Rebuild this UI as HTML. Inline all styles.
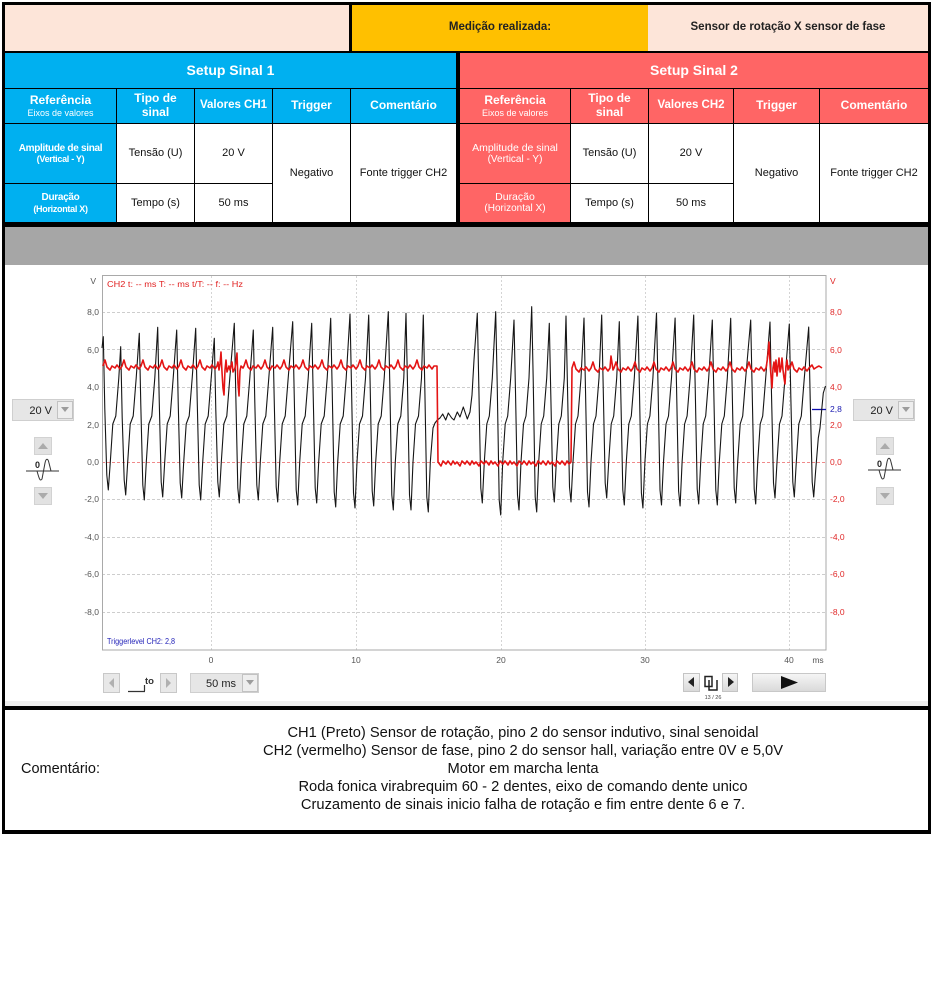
<!DOCTYPE html>
<html><head><meta charset="utf-8">
<style>
*{box-sizing:border-box}
body{margin:0;width:932px;height:995px;background:#fff;position:relative;overflow:hidden;font-family:"Liberation Sans",Arial,sans-serif}
.a{position:absolute}
.c{position:absolute;display:flex;flex-direction:column;align-items:center;justify-content:center;text-align:center;line-height:1.15}
.bl{background:#00b0f0;color:#fff}
.rd{background:#ff6565;color:#fff}
.w{background:#fff;color:#111;font-size:11px}
.h{font-weight:bold;font-size:12px}
.sm{font-size:9px;font-weight:normal}
.ref{font-weight:bold;font-size:10px;letter-spacing:-0.3px}
.ref2{font-weight:bold;font-size:9px;letter-spacing:-0.3px}
</style></head><body>
<!-- frame -->
<div class="a" style="left:2px;top:2px;width:929px;height:832px;background:#000"></div>
<!-- top row -->
<div class="a" style="left:5px;top:5px;width:344px;height:46px;background:#fde5d9"></div>
<div class="c" style="left:352px;top:5px;width:296px;height:46px;background:#ffc000;font-weight:bold;font-size:11.5px;color:#222">Medição realizada:</div>
<div class="c" style="left:648px;top:5px;width:280px;height:46px;background:#fde5d9;font-weight:bold;font-size:11.5px;color:#222">Sensor de rotação X sensor de fase</div>
<!-- setup headers -->
<div class="c bl" style="left:5px;top:53px;width:451px;height:35px;font-weight:bold;font-size:14px">Setup Sinal 1</div>
<div class="c rd" style="left:460px;top:53px;width:468px;height:35px;font-weight:bold;font-size:14px">Setup Sinal 2</div>
<!-- left subheader -->
<div class="c bl h" style="left:5px;top:89px;width:111px;height:34px">Referência<span class="sm">Eixos de valores</span></div>
<div class="c bl h" style="left:117px;top:89px;width:77px;height:34px">Tipo de<br>sinal</div>
<div class="c bl h" style="left:195px;top:89px;width:77px;height:34px;font-size:11.5px">Valores CH1</div>
<div class="c bl h" style="left:273px;top:89px;width:77px;height:34px">Trigger</div>
<div class="c bl h" style="left:351px;top:89px;width:105px;height:34px">Comentário</div>
<!-- right subheader -->
<div class="c rd h" style="left:460px;top:89px;width:110px;height:34px">Referência<span class="sm">Eixos de valores</span></div>
<div class="c rd h" style="left:571px;top:89px;width:77px;height:34px">Tipo de<br>sinal</div>
<div class="c rd h" style="left:649px;top:89px;width:84px;height:34px;font-size:11.5px">Valores CH2</div>
<div class="c rd h" style="left:734px;top:89px;width:85px;height:34px">Trigger</div>
<div class="c rd h" style="left:820px;top:89px;width:108px;height:34px">Comentário</div>
<!-- left rows -->
<div class="c bl" style="left:5px;top:124px;width:111px;height:59px"><span class="ref">Amplitude de sinal</span><span class="ref2">(Vertical - Y)</span></div>
<div class="c w" style="left:117px;top:124px;width:77px;height:59px">Tensão (U)</div>
<div class="c w" style="left:195px;top:124px;width:77px;height:59px;justify-content:flex-start;padding-top:23px">20 V</div>
<div class="c w" style="left:273px;top:124px;width:77px;height:98px">Negativo</div>
<div class="c w" style="left:351px;top:124px;width:105px;height:98px">Fonte trigger CH2</div>
<div class="c bl" style="left:5px;top:184px;width:111px;height:38px"><span class="ref">Duração</span><span class="ref2">(Horizontal X)</span></div>
<div class="c w" style="left:117px;top:184px;width:77px;height:38px">Tempo (s)</div>
<div class="c w" style="left:195px;top:184px;width:77px;height:38px">50 ms</div>
<!-- right rows -->
<div class="c rd" style="left:460px;top:124px;width:110px;height:59px;font-size:10.5px">Amplitude de sinal<span style="font-size:10px">(Vertical - Y)</span></div>
<div class="c w" style="left:571px;top:124px;width:77px;height:59px">Tensão (U)</div>
<div class="c w" style="left:649px;top:124px;width:84px;height:59px;justify-content:flex-start;padding-top:23px">20 V</div>
<div class="c w" style="left:734px;top:124px;width:85px;height:98px">Negativo</div>
<div class="c w" style="left:820px;top:124px;width:108px;height:98px">Fonte trigger CH2</div>
<div class="c rd" style="left:460px;top:184px;width:110px;height:38px;font-size:10.5px">Duração<span style="font-size:10px">(Horizontal X)</span></div>
<div class="c w" style="left:571px;top:184px;width:77px;height:38px">Tempo (s)</div>
<div class="c w" style="left:649px;top:184px;width:84px;height:38px">50 ms</div>
<!-- gray band & panel -->
<div class="a" style="left:5px;top:227px;width:923px;height:38px;background:#a6a6a6"></div>
<div class="a" style="left:5px;top:265px;width:923px;height:436px;background:#fff"></div>
<div class="a" style="left:5px;top:701px;width:923px;height:5px;background:#efefef"></div>
<!-- comment -->
<div class="a" style="left:5px;top:710px;width:923px;height:120px;background:#fff"></div>
<div class="a" style="left:21px;top:761px;font-size:14.5px;color:#111">Comentário:</div>
<div class="a" style="left:193px;top:724px;width:660px;text-align:center;font-size:14.7px;line-height:18px;color:#111">CH1 (Preto) Sensor de rotação, pino 2 do sensor indutivo, sinal senoidal<br>CH2 (vermelho) Sensor de fase, pino 2 do sensor hall, variação entre 0V e 5,0V<br>Motor em marcha lenta<br>Roda fonica virabrequim 60 - 2 dentes, eixo de comando dente unico<br>Cruzamento de sinais inicio falha de rotação e fim entre dente 6 e 7.</div>

<svg class="a" style="left:0;top:0" width="932" height="995" viewBox="0 0 932 995" font-family="Liberation Sans, Arial, sans-serif">
<defs>
<linearGradient id="bg" x1="0" y1="0" x2="0" y2="1"><stop offset="0" stop-color="#f6f6f6"/><stop offset="1" stop-color="#d9d9d9"/></linearGradient>
</defs>
<!-- grid -->
<g stroke="#cdcdcd" stroke-width="1" stroke-dasharray="3,2" fill="none">
<path d="M102,312.5H826M102,349.5H826M102,387.5H826M102,424.5H826M102,499.5H826M102,537.5H826M102,574.5H826M102,612.5H826"/>
</g>
<path d="M102,462.5H826" stroke="#f08a8a" stroke-dasharray="3,2"/>
<g stroke="#d4d4d4" stroke-dasharray="2,2">
<path d="M211.5,276V650M356.5,276V650M501.5,276V650M645.5,276V650M789.5,276V650"/>
</g>
<rect x="102.5" y="275.5" width="723.5" height="374.5" fill="none" stroke="#a9a9a9"/>
<!-- left axis labels -->
<g font-size="8.5" fill="#555" text-anchor="end">
<text x="96" y="284">V</text>
<text x="99" y="315">8,0</text><text x="99" y="353">6,0</text><text x="99" y="390">4,0</text><text x="99" y="428">2,0</text><text x="99" y="465">0,0</text><text x="99" y="502">-2,0</text><text x="99" y="540">-4,0</text><text x="99" y="577">-6,0</text><text x="99" y="615">-8,0</text>
</g>
<g font-size="8.5" fill="#e02828">
<text x="830" y="284">V</text>
<text x="830" y="315">8,0</text><text x="830" y="353">6,0</text><text x="830" y="390">4,0</text><text x="830" y="428">2,0</text><text x="830" y="465">0,0</text><text x="830" y="502">-2,0</text><text x="830" y="540">-4,0</text><text x="830" y="577">-6,0</text><text x="830" y="615">-8,0</text>
</g>
<path d="M812,409.5H826" stroke="#1010b0" stroke-width="1.3"/>
<text x="830" y="412" font-size="8.5" fill="#1a1ab0">2,8</text>
<!-- x labels -->
<g font-size="8.5" fill="#555" text-anchor="middle">
<text x="211" y="663">0</text><text x="356" y="663">10</text><text x="501" y="663">20</text><text x="645" y="663">30</text><text x="789" y="663">40</text><text x="818" y="663">ms</text>
</g>
<text x="107" y="287" font-size="8" fill="#e02020" textLength="136" lengthAdjust="spacingAndGlyphs">CH2  t: -- ms   T: -- ms   t/T: --   f: -- Hz</text>
<text x="107" y="644" font-size="8" fill="#2323b8" textLength="68" lengthAdjust="spacingAndGlyphs">Triggerlevel CH2: 2,8</text>

<!-- black signal -->
<path fill="none" stroke="#151515" stroke-width="1.1" stroke-linejoin="round" d="M102,348 L103.3,336.7
L104.8,409 L106.8,475 L108.3,490 L110.3,462 L112.8,424 L115.8,416 L118.8,378 L120.7,346.7
L122.2,418 L124.2,480 L125.7,495 L127.7,462 L130.2,424 L133.2,416 L136.2,378 L139.3,333.3
L140.8,405 L142.8,485 L144.3,500 L146.3,462 L148.8,424 L151.8,416 L154.8,378 L157.7,327.3
L159.2,399 L161.2,482 L162.7,497 L164.7,462 L167.2,424 L170.2,416 L173.2,378 L176.7,330
L178.2,402 L180.2,483 L181.7,498 L183.7,462 L186.2,424 L189.2,416 L192.2,378 L195.7,328.3
L197.2,400 L199.2,485 L200.7,500 L202.7,462 L205.2,424 L208.2,416 L211.2,378 L214.3,338.3
L215.8,410 L217.8,482 L219.3,497 L221.3,462 L223.8,424 L226.8,416 L229.8,378 L234.3,323.3
L235.8,395 L237.8,488 L239.3,503 L241.3,462 L243.8,424 L246.8,416 L249.8,378 L253.3,330
L254.8,402 L256.8,485 L258.3,500 L260.3,462 L262.8,424 L265.8,416 L268.8,378 L272.7,327.3
L274.2,399 L276.2,487 L277.7,502 L279.7,462 L282.2,424 L285.2,416 L288.2,378 L292.7,321.7
L294.2,394 L296.2,490 L297.7,505 L299.7,462 L302.2,424 L305.2,416 L308.2,378 L311.7,323.3
L313.2,395 L315.2,488 L316.7,503 L318.7,462 L321.2,424 L324.2,416 L327.2,378 L330.7,318.3
L332.2,390 L334.2,492 L335.7,507 L337.7,462 L340.2,424 L343.2,416 L346.2,378 L350,314
L351.5,386 L353.5,493 L355,508 L357,462 L359.5,424 L362.5,416 L365.5,378 L368.7,315
L370.2,387 L372.2,491 L373.7,506 L375.7,462 L378.2,424 L381.2,416 L384.2,378 L388.3,311.7
L389.8,384 L391.8,495 L393.3,510 L395.3,462 L397.8,424 L400.8,416 L403.8,378 L406,313.3
L407.5,385 L409.5,495 L411,510 L413,462 L415.5,424 L418.5,416 L421.5,378 L423.3,315
L424.8,387 L426.8,497 L428.3,512 L430.3,462 L433,428 L435,423 L437.3,420 L440,418 L442.7,414 L445.7,420 L448.3,413 L451.7,418 L454,420 L457.3,412 L460,417 L463.3,407 L467.3,419 L470,412 L472,395 L474,360 L477.3,313.3
L478.8,385 L480.8,488 L482.3,503 L484.3,462 L486.8,424 L489.3,416 L492.3,378 L495.7,311.7
L497.2,384 L499.2,500 L500.7,515 L502.7,462 L505.2,424 L507.7,416 L510.7,378 L514,320
L515.5,392 L517.5,495 L519,510 L521,462 L523.5,424 L526,416 L529,378 L531.7,306.7
L533.2,379 L535.2,497 L536.7,512 L538.7,462 L541.2,424 L543.7,416 L546.7,378 L549.3,323.3
L550.8,395 L552.8,487 L554.3,502 L556.3,462 L558.8,424 L561.3,416 L564.3,378 L566,316
L567.5,388 L569.5,487 L571,502 L573,462 L575.5,424 L578,416 L581,378 L584,318
L585.5,390 L587.5,492 L589,507 L591,462 L593.5,424 L596,416 L599,378 L601.7,315
L603.2,387 L605.2,483 L606.7,498 L608.7,462 L611.2,424 L613.7,416 L616.7,378 L619.3,321.7
L620.8,394 L622.8,490 L624.3,505 L626.3,462 L628.8,424 L631.3,416 L634.3,378 L637.9,316
L639.4,388 L641.4,493 L642.9,508 L644.9,462 L647.4,424 L649.9,416 L652.9,378 L656.5,313
L658,385 L660,490 L661.5,505 L663.5,462 L666,424 L668.5,416 L671.5,378 L675.1,318
L676.6,390 L678.6,491 L680.1,506 L682.1,462 L684.6,424 L687.1,416 L690.1,378 L693.7,315
L695.2,387 L697.2,489 L698.7,504 L700.7,462 L703.2,424 L705.7,416 L708.7,378 L712.3,320
L713.8,392 L715.8,490 L717.3,505 L719.3,462 L721.8,424 L724.3,416 L727.3,378 L730.7,318.3
L732.2,390 L734.2,488 L735.7,503 L737.7,462 L740.2,424 L742.7,416 L745.7,378 L750.7,320
L752.2,392 L754.2,489 L755.7,504 L757.7,462 L760.2,424 L762.7,416 L765.7,378 L770,322
L771.5,394 L773.5,483 L775,498 L777,462 L779.5,424 L782,416 L785,378 L789.3,324
L790.8,396 L792.8,482 L794.3,497 L796.3,462 L798.8,424 L801.3,416 L804.3,378 L808.7,327
L810.2,399 L812.2,482 L813.7,497 L815.7,470 L818.3,438 L820,428 L823.3,393 L825.5,386"/>

<!-- red signal -->
<path fill="none" stroke="#e41414" stroke-width="1.6" stroke-linejoin="round" d="M103,366
l2,-6 l2,7 l3,3 l2,-4 l3,2 l2,-3 l3,4 l2,-3
l2,-6 l2,7 l3,3 l2,-4 l3,2 l2,-3 l3,4 l2,-3
l2,-6 l2,7 l3,3 l2,-4 l3,2 l2,-3 l3,4 l2,-3
l2,-6 l2,7 l3,3 l2,-4 l3,2 l2,-3 l3,4 l2,-3
l2,-6 l2,7 l3,3 l2,-4 l3,2 l2,-3 l3,4 l2,-3
l2,-6 l2,7 l3,3 l2,-4 l3,2 l2,-3 l3,4 l2,-3
l1,-4 l1,8 l1,-6 l1,-12 l1,20 l1,16 l1,7 l1,-25 l1,-10 l1,12 l2,-6 l1,4 l2,-8 l1,10 l2,-4 l1,-6 l1,-9 l1,30 l1,13 l1,-25 l1,-5 l2,2 l1,-2
l2,-6 l2,7 l3,3 l2,-4 l3,2 l2,-3 l3,4 l2,-3
l2,-6 l2,7 l3,3 l2,-4 l3,2 l2,-3 l3,4 l2,-3
l2,-6 l2,7 l3,3 l2,-4 l3,2 l2,-3 l3,4 l2,-3
l2,-6 l2,7 l3,3 l2,-4 l3,2 l2,-3 l3,4 l2,-3
l2,-6 l2,7 l3,3 l2,-4 l3,2 l2,-3 l3,4 l2,-3
l2,-6 l2,7 l3,3 l2,-4 l3,2 l2,-3 l3,4 l2,-3
l2,-6 l2,7 l3,3 l2,-4 l3,2 l2,-3 l3,4 l2,-3
l2,-6 l2,7 l3,3 l2,-4 l3,2 l2,-3 l3,4 l2,-3
l2,-6 l2,7 l3,3 l2,-4 l3,2 l2,-3 l3,4 l2,-3
l2,-6 l2,7 l3,3 l2,-4 l3,2 l2,-3 l3,4 l2,-3
l3,0 L438,462
l3,4 l2,-5 l3,3 l2,-3 l3,4 l2,-4 l2,3 l2,-2
l3,4 l2,-5 l3,3 l2,-3 l3,4 l2,-4 l2,3 l2,-2
l3,4 l2,-5 l3,3 l2,-3 l3,4 l2,-4 l2,3 l2,-2
l3,4 l2,-5 l3,3 l2,-3 l3,4 l2,-4 l2,3 l2,-2
l3,4 l2,-5 l3,3 l2,-3 l3,4 l2,-4 l2,3 l2,-2
l3,4 l2,-5 l3,3 l2,-3 l3,4 l2,-4 l2,3 l2,-2
l3,4 l2,-5 l3,3 l2,-3 l3,4 l2,-4 l2,3 l2,-2
L572,368
l2,-6 l2,7 l3,3 l2,-4 l3,2 l2,-3 l3,4 l2,-3
l2,-6 l2,7 l3,3 l2,-4 l3,2 l2,-3 l3,4 l2,-3
l1,-12 l2,14 l1,-2
l2,-6 l2,7 l3,3 l2,-4 l3,2 l2,-3 l3,4 l2,-3
l2,-6 l2,7 l3,3 l2,-4 l3,2 l2,-3 l3,4 l2,-3
l2,-6 l2,7 l3,3 l2,-4 l3,2 l2,-3 l3,4 l2,-3
l2,-6 l2,7 l3,3 l2,-4 l3,2 l2,-3 l3,4 l2,-3
l2,-6 l2,7 l3,3 l2,-4 l3,2 l2,-3 l3,4 l2,-3
l2,-6 l2,7 l3,3 l2,-4 l3,2 l2,-3 l3,4 l2,-3
l2,-6 l2,7 l3,3 l2,-4 l3,2 l2,-3 l3,4 l2,-3
l2,-6 l2,7 l3,3 l2,-4 l3,2 l2,-3 l3,4 l2,-3
l1,-6 l1,-8 l1,-12 l1,20 l1,14 l1,12 l1,-20 l1,-6 l1,10 l1,-12 l1,16 l1,-10 l1,-8 l1,14 l1,-4 l1,-10 l1,12 l1,8 l1,6 l1,-18 l1,-6 l1,10 l1,-4 l1,2
l2,-6 l2,7 l3,3 l2,-4 l3,2 l2,-3 l3,4 l2,-3
l3,-3 l2,4 l3,-2 l2,-1 l3,2"/>

<!-- left controls -->
<rect x="12.5" y="399.5" width="61" height="21" fill="#e6e6e6" stroke="#cfcfcf"/>
<rect x="57.5" y="401.5" width="15" height="17" fill="#eeeeee" stroke="#c2c2c2"/>
<polygon points="61,407 69,407 65,412" fill="#9c9c9c"/>
<text x="52" y="414" font-size="11" fill="#222" text-anchor="end">20 V</text>
<rect x="34.5" y="437.5" width="17" height="17" fill="#e2e2e2" stroke="#d2d2d2"/>
<polygon points="38,449 48,449 43,443" fill="#ababab"/>
<text x="35" y="468" font-size="9" font-weight="bold" fill="#222">0</text>
<path d="M26,471H59M37,471C39,478 40,482 42,479L45,463C46,458 48,458 49,463L51,471" fill="none" stroke="#333" stroke-width="1"/>
<rect x="34.5" y="487.5" width="17" height="17" fill="#e2e2e2" stroke="#d2d2d2"/>
<polygon points="38,493 48,493 43,499" fill="#ababab"/>
<!-- right controls -->
<rect x="853.5" y="399.5" width="61" height="21" fill="#e6e6e6" stroke="#cfcfcf"/>
<rect x="898.5" y="401.5" width="15" height="17" fill="#eeeeee" stroke="#c2c2c2"/>
<polygon points="902,407 910,407 906,412" fill="#9c9c9c"/>
<text x="893" y="414" font-size="11" fill="#222" text-anchor="end">20 V</text>
<rect x="876.5" y="437.5" width="17" height="17" fill="#e2e2e2" stroke="#d2d2d2"/>
<polygon points="880,449 890,449 885,443" fill="#ababab"/>
<text x="877" y="467" font-size="9" font-weight="bold" fill="#222">0</text>
<path d="M868,470H901M879,470C881,477 882,481 884,478L887,462C888,457 890,457 891,462L893,470" fill="none" stroke="#333" stroke-width="1"/>
<rect x="876.5" y="487.5" width="17" height="17" fill="#e2e2e2" stroke="#d2d2d2"/>
<polygon points="880,493 890,493 885,499" fill="#ababab"/>
<!-- bottom controls -->
<rect x="103.5" y="673.5" width="16" height="19" fill="#e8e8e8" stroke="#c8c8c8"/>
<polygon points="114,678 114,688 109,683" fill="#b0b0b0"/>
<path d="M128,691.5H145M144.5,685V691" stroke="#333" stroke-width="1.2"/>
<text x="145" y="684" font-size="9.5" font-weight="bold" fill="#333">to</text>
<rect x="160.5" y="673.5" width="16" height="19" fill="#e8e8e8" stroke="#c8c8c8"/>
<polygon points="166,678 166,688 171,683" fill="#b0b0b0"/>
<rect x="190.5" y="673.5" width="68" height="19" fill="#e6e6e6" stroke="#cfcfcf"/>
<rect x="242.5" y="674.5" width="15" height="17" fill="#eeeeee" stroke="#c2c2c2"/>
<polygon points="246,680 254,680 250,685" fill="#9c9c9c"/>
<text x="236" y="687" font-size="11" fill="#222" text-anchor="end">50 ms</text>
<rect x="683.5" y="673.5" width="16" height="18" fill="url(#bg)" stroke="#c4c4c4"/>
<polygon points="694,677 694,687 688,682" fill="#222"/>
<path d="M705,676.5h7v10h-7zM709,680v10h8v-10" fill="none" stroke="#222" stroke-width="1.5"/>
<rect x="722.5" y="673.5" width="15" height="18" fill="url(#bg)" stroke="#c4c4c4"/>
<polygon points="728,677 728,687 734,682" fill="#222"/>
<text x="713" y="699" font-size="5.5" fill="#444" text-anchor="middle">13 / 26</text>
<rect x="752.5" y="673.5" width="73" height="18" fill="url(#bg)" stroke="#c8c8c8"/>
<polygon points="781,676 781,689 798,682.5" fill="#111"/>
</svg>
</body></html>
